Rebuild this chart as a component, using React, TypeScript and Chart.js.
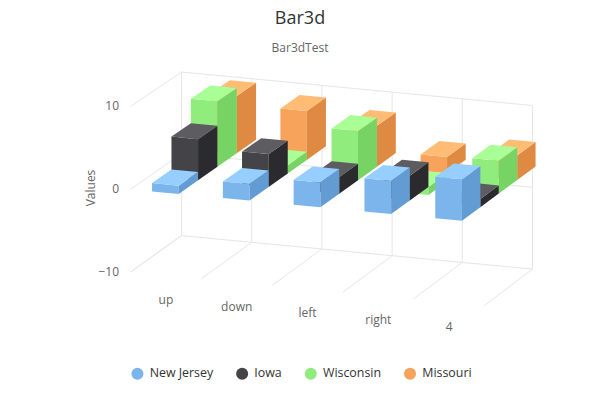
import React, { useEffect, useRef } from "react";
import { Chart, registerables } from "chart.js";

Chart.register(...registerables);

const categories = ["up", "down", "left", "right", "4"];
const seriesNames = ["New Jersey", "Iowa", "Wisconsin", "Missouri"];
const newJersey = [1, 2, 3, 4, 5];
const iowa = [5, 4, 2, 3, 1];
const wisconsin = [8, 1, 6, -1, 4];
const missouri = [7, 6, 5, 2, 3];
const seriesColors = ["#7cb5ec", "#434348", "#90ed7d", "#f7a35c"];
const topColors = ["#95ceff", "#5c5c61", "#a9ff96", "#ffbc75"];
const sideColors = ["#639cd3", "#2a2a2f", "#77d464", "#de8a43"];

const FONT = '"Open Sans", sans-serif';
const GRID = "#e6e6e6";
const LABEL = "#666666";

// oblique view of the plot box
const DEPTH_X = 51;
const DEPTH_Y = 35.5;
const SLOPE_Y = 33.5;
const WIDEN = 3;
const TALLER = 0.012;
const ROW_DEPTH = 0.382;
const BAR_FRACTION = 0.377;
const LEGEND_SHIFT = 1.5;

const bar3dPlugin = {
  id: "bar3d",
  afterLayout(chart: any) {
    chart.legend.left += LEGEND_SHIFT;
    chart.legend.right += LEGEND_SHIFT;
  },
  beforeDraw(chart: any) {
    const { ctx, width, height } = chart;
    ctx.save();
    ctx.fillStyle = "#ffffff";
    ctx.fillRect(0, 0, width, height);
    ctx.restore();
  },
  beforeDatasetsDraw(chart: any) {
    const { ctx, chartArea: a, scales } = chart;
    const xs = scales.x;
    const ys = scales.y;
    const W = a.right - a.left;
    const mid = (a.top + a.bottom) / 2;
    const project = (px: number, py: number, z: number): [number, number] => {
      const u = (px - a.left) / W;
      return [
        a.left + (px - a.left) * (1 + (WIDEN / W) * z) - DEPTH_X * z,
        mid + (py - mid) * (1 + TALLER * z) + SLOPE_Y * u + DEPTH_Y * z,
      ];
    };
    const line = (p: [number, number], q: [number, number]) => {
      ctx.beginPath();
      ctx.moveTo(p[0] + 0.5, p[1]);
      ctx.lineTo(q[0] + 0.5, q[1]);
      ctx.stroke();
    };
    const n = categories.length;
    const catW = W / n;

    // grid
    ctx.save();
    ctx.strokeStyle = GRID;
    ctx.lineWidth = 1;
    for (let i = 0; i <= n; i++) {
      const px = a.left + catW * i;
      line(project(px, a.top, 0), project(px, a.bottom, 0));
      line(project(px, a.bottom, 0), project(px, a.bottom, 1));
    }
    for (const t of ys.ticks) {
      const py = ys.getPixelForValue(t.value);
      line(project(a.left, py, 0), project(a.right, py, 0));
      line(project(a.left, py, 0), project(a.left, py, 1));
    }
    ctx.restore();

    // boxes, far row first and left to right
    const zero = ys.getPixelForValue(0);
    const barW = catW * BAR_FRACTION;
    for (let r = chart.data.datasets.length - 1; r >= 0; r--) {
      const values = chart.data.datasets[r].data as number[];
      const zf = 1 - r * ROW_DEPTH;
      const zb = 1 - (r + 1) * ROW_DEPTH;
      values.forEach((v, i) => {
        const cx = xs.getPixelForValue(i);
        const l = cx - barW / 2;
        const rt = cx + barW / 2;
        const vp = ys.getPixelForValue(v);
        const hi = Math.min(vp, zero);
        const lo = Math.max(vp, zero);
        const face = (pts: [number, number][], color: string) => {
          ctx.beginPath();
          pts.forEach((p, k) => (k ? ctx.lineTo(p[0], p[1]) : ctx.moveTo(p[0], p[1])));
          ctx.closePath();
          ctx.fillStyle = color;
          ctx.fill();
        };
        face(
          [project(l, hi, zf), project(rt, hi, zf), project(rt, lo, zf), project(l, lo, zf)],
          seriesColors[r]
        );
        face(
          [project(rt, hi, zf), project(rt, hi, zb), project(rt, lo, zb), project(rt, lo, zf)],
          sideColors[r]
        );
        face(
          [project(l, hi, zf), project(l, hi, zb), project(rt, hi, zb), project(rt, hi, zf)],
          topColors[r]
        );
      });
    }

    // axis text
    ctx.save();
    ctx.fillStyle = LABEL;
    ctx.font = `12px ${FONT}`;
    ctx.textBaseline = "middle";
    ctx.textAlign = "right";
    for (const t of ys.ticks) {
      const p = project(a.left, ys.getPixelForValue(t.value), 1);
      ctx.fillText(String(t.label).replace("-", "\u2212"), p[0] - 11, p[1] + 0.5);
    }
    ctx.textAlign = "center";
    categories.forEach((_, i) => {
      const p = project(xs.getPixelForValue(i), a.bottom, 1);
      ctx.fillText(xs.getLabelForValue(i), p[0] + 0.5, p[1] + 25);
    });
    ctx.translate(92, 188);
    ctx.rotate(-Math.PI / 2);
    ctx.fillText(ys.options.title.text, 0, 0);
    ctx.restore();
    return false;
  },
};

export default function App() {
  const ref = useRef<HTMLCanvasElement | null>(null);
  useEffect(() => {
    const canvas = ref.current!;
    const ctx = canvas.getContext("2d", { alpha: false })!;
    const allSeries = [newJersey, iowa, wisconsin, missouri];
    const chart = new Chart(ctx, {
      type: "bar",
      data: {
        labels: categories,
        datasets: seriesNames.map((name, i) => ({
          label: name,
          data: allSeries[i],
          backgroundColor: seriesColors[i],
          borderColor: seriesColors[i],
        })),
      },
      options: {
        animation: false,
        responsive: false,
        devicePixelRatio: 1,
        layout: { padding: { bottom: 10 } },
        scales: {
          x: {
            type: "category",
            grid: { display: false },
            border: { display: false },
            ticks: { display: false, autoSkip: false },
            afterFit: (s: any) => {
              s.height = 109;
            },
          },
          y: {
            type: "linear",
            position: "left",
            min: -10,
            max: 10,
            title: { display: false, text: "Values" },
            grid: { display: false },
            border: { display: false },
            ticks: { display: false, stepSize: 10 },
            afterFit: (s: any) => {
              s.width = 181;
            },
          },
          spare: {
            type: "linear",
            position: "right",
            grid: { display: false },
            border: { display: false },
            ticks: { display: false },
            afterFit: (s: any) => {
              s.width = 68;
            },
          },
        },
        plugins: {
          tooltip: { enabled: false },
          title: {
            display: true,
            text: "Bar3d",
            color: "#333333",
            font: { family: FONT, size: 18, weight: "normal" },
            padding: { top: 8, bottom: 12 },
          },
          subtitle: {
            display: true,
            text: "Bar3dTest",
            color: LABEL,
            font: { family: FONT, size: 12, weight: "normal" },
            padding: { top: 0, bottom: 16 },
          },
          legend: {
            position: "bottom",
            labels: {
              color: "#333333",
              font: { family: FONT, size: 12.4, weight: "normal" },
              usePointStyle: true,
              pointStyle: "circle",
              boxWidth: 12,
              boxHeight: 8.5,
              padding: 23,
            },
          },
        },
      },
      plugins: [bar3dPlugin],
    } as any);
    return () => chart.destroy();
  }, []);
  return (
    <div style={{ position: "absolute", left: 0, top: 0, width: 600, height: 400 }}>
      <canvas ref={ref} width={600} height={400} style={{ display: "block" }} />
    </div>
  );
}
